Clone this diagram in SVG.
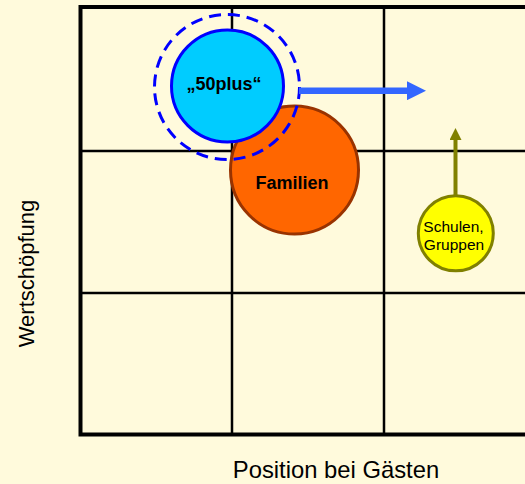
<svg xmlns="http://www.w3.org/2000/svg" width="525" height="484" viewBox="0 0 525 484">
<style>
.grid{stroke:#000;stroke-width:2.5;fill:none}
.lbl{font-family:"Liberation Sans",Arial,sans-serif;fill:#000}
.b{font-weight:bold;font-size:18px}
</style>
<defs>
<marker id="ab" markerWidth="19" markerHeight="19" refX="0" refY="9.5" markerUnits="userSpaceOnUse" orient="auto">
<path d="M0,0 L19,9.5 L0,19 Z" fill="#3366FF"/>
</marker>
<marker id="ao" markerWidth="12" markerHeight="12" refX="0" refY="6" markerUnits="userSpaceOnUse" orient="auto">
<path d="M0,0 L12,6 L0,12 Z" fill="#808000"/>
</marker>
</defs>
<rect width="525" height="484" fill="#FFFADC"/>
<g id="grid">
<line class="grid" x1="232" y1="7" x2="232" y2="435"/>
<line class="grid" x1="384" y1="7" x2="384" y2="435"/>
<line class="grid" x1="80" y1="151" x2="530" y2="151"/>
<line class="grid" x1="80" y1="293" x2="530" y2="293"/>
<rect x="80.5" y="7" width="460" height="427.5" fill="none" stroke="#000" stroke-width="4"/>
</g>
<g id="familien">
<circle cx="294.5" cy="170" r="64" fill="#FF6600" stroke="#993300" stroke-width="3"/>
<text class="lbl b" x="292" y="189" text-anchor="middle">Familien</text>
</g>
<g id="plus50">
<circle cx="227.5" cy="86" r="56" fill="#00CCFF" stroke="#0000FF" stroke-width="3"/>
<circle cx="227" cy="87" r="72.5" fill="none" stroke="#0000FF" stroke-width="3" stroke-dasharray="12,7"/>
<text class="lbl b" x="224" y="90" text-anchor="middle">„50plus“</text>
</g>
<g id="schulen">
<circle cx="455.8" cy="233.3" r="37.5" fill="#FFFF00" stroke="#808000" stroke-width="3"/>
<text class="lbl" font-size="15.5" text-anchor="middle"><tspan x="453.5" y="232">Schulen,</tspan><tspan x="454" y="250">Gruppen</tspan></text>
</g>
<g id="connectors">
<line x1="299" y1="90.7" x2="407" y2="90.7" stroke="#3366FF" stroke-width="6.5" marker-end="url(#ab)"/>
<line x1="455.5" y1="195" x2="455.5" y2="140" stroke="#808000" stroke-width="4" marker-end="url(#ao)"/>
</g>
<text class="lbl" font-size="23.8" x="336" y="478" text-anchor="middle">Position bei Gästen</text>
<text class="lbl" font-size="22" text-anchor="middle" transform="translate(34,273.5) rotate(-90)">Wertschöpfung</text>
</svg>
